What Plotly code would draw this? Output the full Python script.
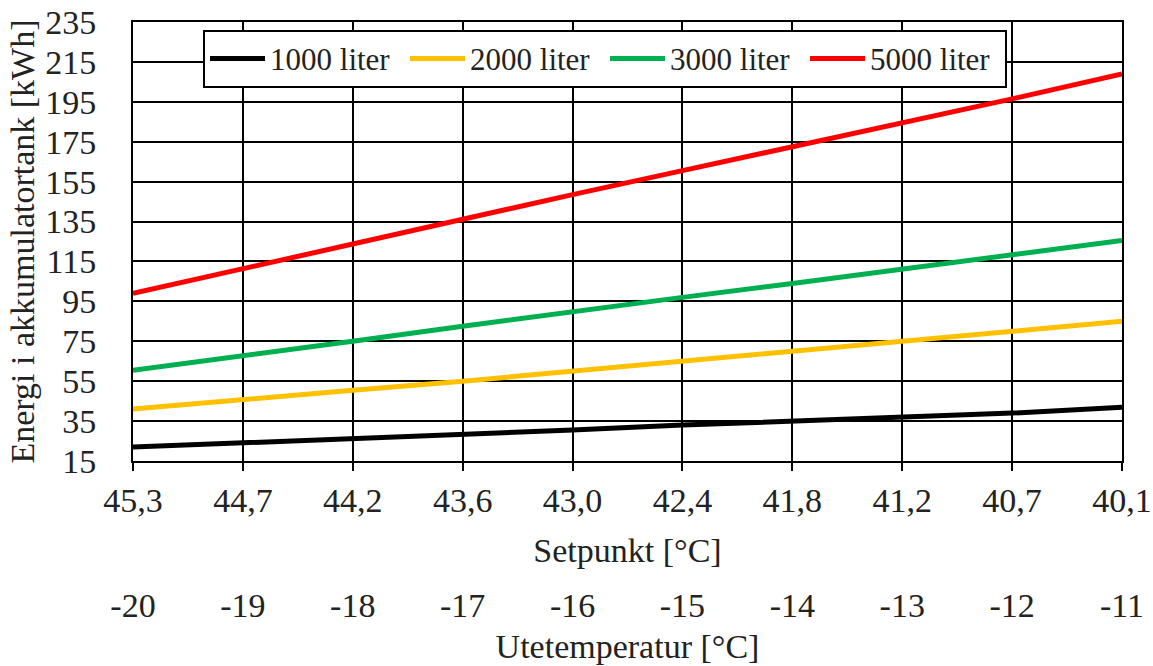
import plotly.graph_objects as go

# Outdoor temperature steps and the matching heat pump setpoints
ute_temp = [-20, -19, -18, -17, -16, -15, -14, -13, -12, -11]
setpunkt = ["45,3", "44,7", "44,2", "43,6", "43,0", "42,4", "41,8", "41,2", "40,7", "40,1"]

# Stored energy [kWh] per tank volume
e_1000 = [22, 24, 26, 28.5, 30.5, 33, 35, 37, 39, 42]
e_2000 = [41, 46, 50.5, 55, 60, 65, 70, 75, 80, 85]
e_3000 = [60.5, 67.5, 75, 82.5, 90, 97, 104, 111, 118.5, 125.5]
e_5000 = [99, 111.5, 124, 136, 148.5, 160.5, 172.5, 184, 196.5, 209]

series_names = ["1000 liter", "2000 liter", "3000 liter", "5000 liter"]
series_vals = [e_1000, e_2000, e_3000, e_5000]
series_colors = ["#000000", "#FFC000", "#00B050", "#FF0000"]

y_ticks = list(range(15, 236, 20))

FONT = "Liberation Serif"
TXT = "#222222"
FS = 34

fig = go.Figure()
for name, vals, col in zip(series_names, series_vals, series_colors):
    fig.add_trace(go.Scatter(x=ute_temp, y=vals, name=name, mode="lines",
                             line=dict(color=col, width=5)))

# invisible trace that carries the second (outdoor temperature) axis
fig.add_trace(go.Scatter(x=ute_temp, y=[None] * len(ute_temp), xaxis="x2",
                         showlegend=False, hoverinfo="skip"))

fig.update_layout(
    width=1153, height=666,
    margin=dict(l=133, r=31, t=22, b=0, autoexpand=False),
    paper_bgcolor="white", plot_bgcolor="white",
    font=dict(family=FONT, size=FS, color=TXT),
    showlegend=True,
    legend=dict(orientation="h", x=0.0708, y=0.988, xanchor="left", yanchor="top",
                bgcolor="white", bordercolor="black", borderwidth=2,
                font=dict(family=FONT, size=31, color=TXT),
                itemwidth=55, entrywidth=130, entrywidthmode="pixels",
                tracegroupgap=0, traceorder="normal"),
    xaxis=dict(
        range=[-20, -11], tickvals=ute_temp, ticktext=setpunkt,
        showgrid=True, gridcolor="black", gridwidth=2,
        showline=True, linecolor="black", linewidth=2, mirror=True,
        ticks="outside", ticklen=8, tickwidth=2, tickcolor="black",
        zeroline=False, automargin=False,
        title=dict(text="Setpunkt [°C]", standoff=20,
                   font=dict(family=FONT, size=FS, color=TXT)),
    ),
    xaxis2=dict(
        range=[-20, -11], tickvals=ute_temp, ticktext=[f"-{abs(v)}" for v in ute_temp],
        overlaying="x", anchor="free", position=0.13, side="bottom",
        showgrid=False, showline=False, ticks="", zeroline=False, automargin=False,
        title=dict(text="Utetemperatur [°C]", standoff=10,
                   font=dict(family=FONT, size=FS, color=TXT)),
    ),
    yaxis=dict(
        domain=[0.3183, 1], range=[15, 235], tickvals=y_ticks,
        showgrid=True, gridcolor="black", gridwidth=2,
        showline=True, linecolor="black", linewidth=2, mirror=True,
        ticks="outside", ticklen=28, tickcolor="rgba(0,0,0,0)",
        zeroline=False, automargin=False,
        title=dict(text="Energi i akkumulatortank [kWh]", standoff=0,
                   font=dict(family=FONT, size=FS, color=TXT)),
    ),
)

fig.write_html("out.html")
